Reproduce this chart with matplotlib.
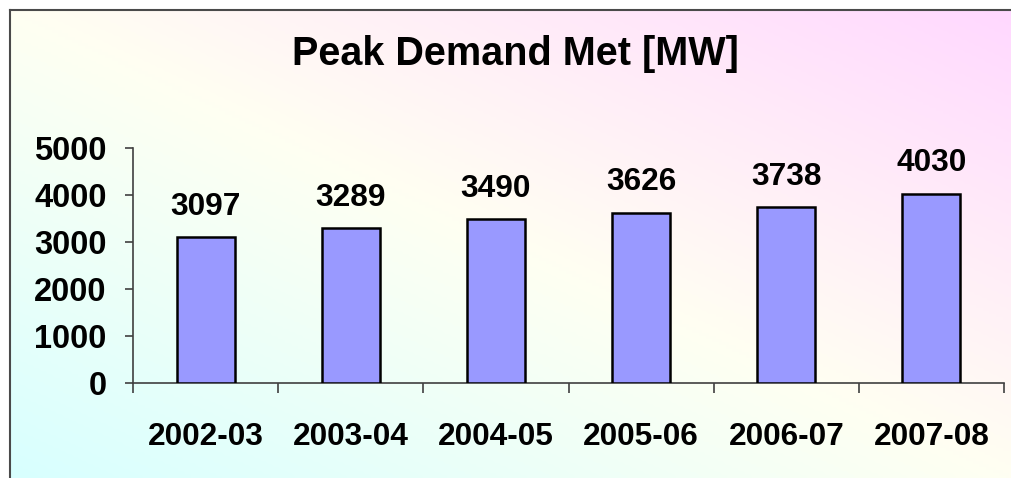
import numpy as np
import matplotlib
matplotlib.use("Agg")
import matplotlib.pyplot as plt
from matplotlib.colors import LinearSegmentedColormap
from matplotlib.lines import Line2D

years = ["2002-03", "2003-04", "2004-05", "2005-06", "2006-07", "2007-08"]
peak_mw = [3097, 3289, 3490, 3626, 3738, 4030]
yticks = [0, 1000, 2000, 3000, 4000, 5000]
title = "Peak Demand Met [MW]"

plt.rcParams['font.family'] = ['Liberation Sans', 'DejaVu Sans']
plt.rcParams['font.weight'] = 'bold'

W, H = 1011, 478
fig = plt.figure(figsize=(W / 100, H / 100), dpi=100, facecolor='white')

# gradient background inside the frame
fx0, fy_top = 10 / W, 1 - 10 / H
bg = fig.add_axes([fx0, 0, 1 - fx0, fy_top])
bg.set_axis_off()
nx, ny = 300, 150
u = np.linspace(0, 1, nx)[None, :]
v = np.linspace(0, 1, ny)[:, None]  # v=0 bottom
t = (u + v) / 2
cmap = LinearSegmentedColormap.from_list(
    "bgc", [(0.0, "#d8ffff"), (0.5, "#fffff2"), (1.0, "#ffd8ff")])
bg.imshow(cmap(t), origin='lower', aspect='auto', extent=[0, 1, 0, 1],
          interpolation='bilinear')
bg.set_xlim(0, 1)
bg.set_ylim(0, 1)

# frame lines (left and top)
fig.add_artist(Line2D([fx0, fx0], [0, fy_top], transform=fig.transFigure,
                      color='#4a4a4a', lw=1.5))
fig.add_artist(Line2D([fx0, 1], [fy_top, fy_top], transform=fig.transFigure,
                      color='#4a4a4a', lw=1.5))

# main axes
left, right, bottom, top = 133 / W, 1004 / W, 1 - 383 / H, 1 - 148 / H
ax = fig.add_axes([left, bottom, right - left, top - bottom])
ax.patch.set_alpha(0)

x = np.arange(len(years))
bars = ax.bar(x, peak_mw, width=0.4, color='#9999ff', edgecolor='black',
              linewidth=1.8, zorder=3)

for xi, val in zip(x, peak_mw):
    ax.annotate(str(val), (xi, val), xytext=(0, 11), textcoords='offset points',
                ha='center', va='bottom', fontsize=22.8, fontweight='bold')

ax.set_xlim(-0.5, len(years) - 0.5)
ax.set_ylim(0, 5000)
ax.set_yticks(yticks)
ax.set_yticklabels([str(v) for v in yticks], fontsize=23.5, fontweight='bold')
ax.tick_params(axis='y', length=6, width=1.2, color='#404040', pad=13)

ax.set_xticks(x)
ax.set_xticklabels(years, fontsize=22.8, fontweight='bold')
ax.set_xticks(np.arange(-0.5, len(years), 1.0), minor=True)
ax.tick_params(axis='x', which='major', length=0, pad=28)
ax.tick_params(axis='x', which='minor', length=7, width=1.2, color='#404040')

for s in ['top', 'right']:
    ax.spines[s].set_visible(False)
for s in ['left', 'bottom']:
    ax.spines[s].set_color('#404040')
    ax.spines[s].set_linewidth(1.2)

fig.text(515 / W, 1 - 54 / H, title, ha='center', va='center',
         fontsize=28.5, fontweight='bold')

fig.savefig("out.png", dpi=100, facecolor=fig.get_facecolor())
